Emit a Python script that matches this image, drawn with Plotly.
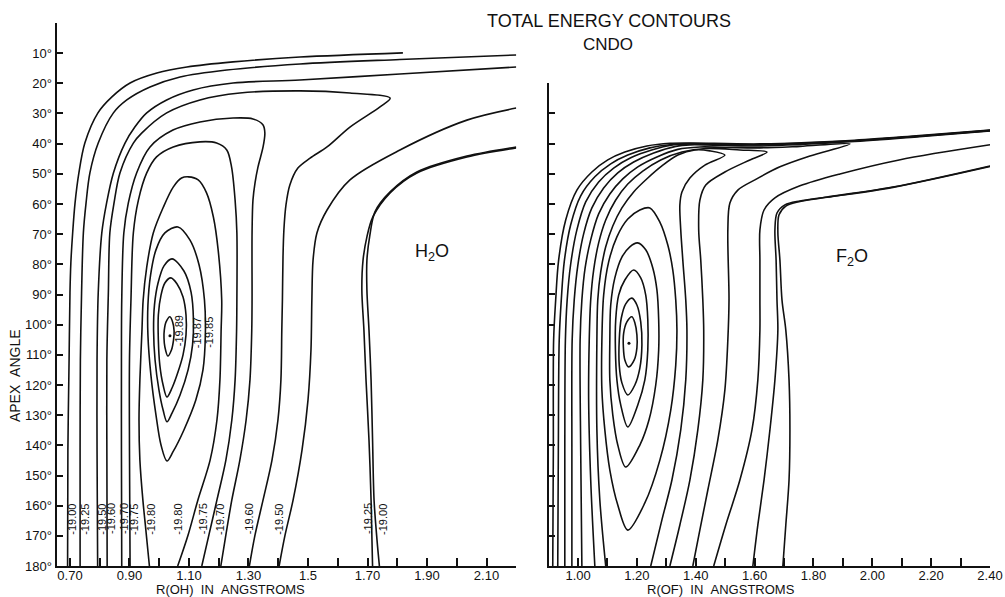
import plotly.graph_objects as go

# ---------------- H2O panel (R(OH) in Angstrom, apex angle in degrees) ----------------
h2o_m1900_left_r = [0.692,0.693,0.697,0.700,0.703,0.709,0.717,0.730,0.750,0.794,0.841,0.902,0.992,1.093,1.248,1.473,1.819]
h2o_m1900_left_a = [180,141.5,111.7,89.5,79.5,69.6,59.7,49.7,39.8,29.8,24.5,19.9,16.6,14.6,12.9,11.3,9.9]

h2o_m1925_left_r = [0.734,0.734,0.735,0.739,0.745,0.754,0.767,0.795,0.846,0.891,0.969,1.070,1.227,1.473,1.809,2.2]
h2o_m1925_left_a = [180,141.5,111.7,89.5,69.6,59.7,49.7,39.8,29.8,25.5,21.2,17.9,15.6,13.6,12.1,10.6]

h2o_m1950_left_r = [0.793,0.791,0.791,0.795,0.807,0.823,0.846,0.885,0.918,0.958,1.025,1.114,1.248,1.473,1.809,2.2]
h2o_m1950_left_a = [180,141.5,111.7,89.5,69.6,59.7,49.7,39.8,34.5,29.8,25.5,22.2,19.9,18.9,16.9,14.6]

h2o_m1960_r = [0.825,0.824,0.824,0.829,0.834,0.848,0.868,0.913,0.941,1.025,1.137,1.271,1.473,1.641,1.776,
               1.742,1.641,1.564,1.507,1.466,1.439,1.426,1.419,1.416,1.414,1.412,1.409,1.399,1.379,1.349,1.322,1.303]
h2o_m1960_a = [180,141.5,111.7,89.5,69.6,59.7,49.7,39.8,36.5,29.8,25.5,23.2,22.5,23.2,24.9,
               27.8,34.5,41.1,44.8,48.1,53.7,60.3,68.6,77.6,91.8,101.8,118.3,131.6,144.9,158.1,169.7,180]

h2o_m1970_r = [0.874,0.873,0.873,0.874,0.881,0.896,0.924,0.969,1.046,1.137,1.248,1.315,1.349,1.355,1.349,1.332,
               1.322,1.315,1.312,1.312,1.311,1.305,1.292,1.271,1.244,1.224,1.207]
h2o_m1970_a = [180,141.5,111.7,91.8,69.6,59.7,49.7,41.1,35.5,32.8,31.5,31.8,33.8,36.5,41.1,47.7,
               53.0,58.7,69.6,91.8,101.8,118.3,131.6,144.9,158.1,169.7,180]

h2o_m1975_r = [0.902,0.900,0.900,0.905,0.913,0.930,0.958,0.991,1.047,1.137,1.193,1.227,1.243,1.255,1.261,1.261,
               1.260,1.255,1.244,1.224,1.194,1.167,1.143]
h2o_m1975_a = [180,141.5,111.7,91.8,69.6,58.7,49.7,44.4,41.1,39.4,39.8,42.1,47.7,58.7,69.6,91.8,
               101.8,118.3,131.6,144.9,158.1,169.7,180]

h2o_m1980_r = [0.967,0.955,0.945,0.935,0.932,0.935,0.942,0.946,0.958,0.980,1.014,1.047,1.075,1.098,1.131,1.159,
               1.182,1.198,1.210,1.208,1.204,1.194,1.171,1.130,1.097,1.062]
h2o_m1980_a = [180,168.0,158.1,144.9,131.6,118.3,101.8,91.8,80.9,69.6,61.0,54.4,51.4,51.0,52.0,56.3,
               64.3,75.2,91.8,101.8,118.3,131.6,144.9,158.1,169.7,180]

h2o_ring4_r = [1.063,1.019,0.989,0.971,0.962,0.962,0.972,0.989,1.006,1.026,1.046,1.083,1.123,1.147,1.155,1.152,1.134,1.103,1.063]
h2o_ring4_a = [67.6,69.6,75.2,83.5,93.5,103.4,116.7,129.9,139.9,145.2,142.2,134.9,125.0,115.0,103.4,91.8,80.2,71.9,67.6]

h2o_m1985_r = [1.043,1.016,0.996,0.984,0.981,0.986,0.999,1.013,1.026,1.043,1.070,1.097,1.112,1.115,1.107,1.083,1.043]
h2o_m1985_a = [78.2,80.5,86.2,93.5,101.8,111.7,121.6,128.3,132.2,129.3,123.3,115.0,106.7,98.4,89.2,82.2,78.2]

h2o_m1987_r = [1.039,1.019,1.006,0.997,0.997,1.002,1.013,1.026,1.043,1.063,1.080,1.090,1.090,1.080,1.060,1.039]
h2o_m1987_a = [84.5,86.2,90.2,96.8,105.1,113.4,120.0,124.0,121.0,115.7,110.0,103.4,96.8,90.8,86.5,84.5]

h2o_m1989_r = [1.036,1.023,1.017,1.016,1.019,1.029,1.041,1.048,1.050,1.045,1.036]
h2o_m1989_a = [97.4,99.1,101.8,104.4,107.4,110.4,108.4,105.1,102.1,99.1,97.4]

h2o_m1950_right_r = [2.2,2.034,1.809,1.641,1.564,1.530,1.517,1.513,1.510,1.500,1.480,1.450,1.423,1.403]
h2o_m1950_right_a = [28.2,32.2,42.1,52.0,62.0,69.6,78.6,91.8,108.4,125.0,141.5,158.1,169.7,180]

h2o_m1925_right_r = [2.2,2.034,1.866,1.776,1.718,1.698,1.685,1.681,1.688,1.695,1.705,1.712,1.715,1.717]
h2o_m1925_right_a = [41.4,44.4,49.7,56.3,64.3,70.9,78.6,88.5,101.8,118.3,138.2,158.1,171.4,180]

h2o_m1900_right_r = [2.2,2.034,1.866,1.776,1.725,1.708,1.698,1.698,1.705,1.712,1.717,1.722,1.732,1.740]
h2o_m1900_right_a = [41.1,44.1,49.4,56.0,62.6,70.3,78.6,88.5,101.8,118.3,138.2,158.1,171.4,180]

h2o_min_r = [1.036]
h2o_min_a = [103.7]

h2o_label_text = ["-19.00","-19.25","-19.50","-19.60","-19.70","-19.75","-19.80",
                  "-19.80","-19.75","-19.70","-19.60","-19.50","-19.25","-19.00"]
h2o_label_r = [0.706,0.750,0.807,0.838,0.882,0.915,0.972,1.062,1.148,1.204,1.303,1.402,1.702,1.752]
h2o_label_a = [164.4]*14
h2o_inner_text = ["-19.89","-19.87","-19.85"]
h2o_inner_r = [1.065,1.126,1.165]
h2o_inner_a = [102.0,102.6,102.6]

# ---------------- F2O panel (R(OF) in Angstrom) ----------------
f2o_o1_r = [0.914,0.916,0.917,0.924,0.934,0.958,0.996,1.047,1.101,1.159,1.234,1.312,1.380,1.618,1.924,2.160,2.400]
f2o_o1_a = [180,141.5,105.1,91.8,78.6,65.3,55.4,49.4,45.4,42.8,40.8,39.9,39.8,40.1,38.95,37.3,35.5]

f2o_o2_r = [0.931,0.933,0.936,0.943,0.953,0.975,1.009,1.057,1.111,1.169,1.244,1.319,1.380,1.618,1.924,2.160,2.400]
f2o_o2_a = [180,141.5,105.1,91.8,79.2,66.9,57.3,51.0,46.7,43.8,41.4,40.3,40.0,40.3,39.1,37.45,35.6]

f2o_o3_r = [0.955,0.955,0.957,0.963,0.975,0.996,1.026,1.070,1.121,1.179,1.250,1.325,1.380,1.618,1.924,2.160,2.400]
f2o_o3_a = [180,141.5,105.1,91.8,79.9,68.6,59.3,52.7,48.1,44.7,42.1,40.4,40.1,40.4,39.2,37.55,35.7]

f2o_o4_r = [0.979,0.979,0.980,0.987,0.999,1.019,1.047,1.087,1.135,1.189,1.257,1.332,1.380,1.618,1.924,2.160,2.400]
f2o_o4_a = [180,141.5,105.1,91.8,80.5,69.9,61.3,54.7,49.7,46.1,43.1,40.9,40.4,40.8,39.4,37.7,35.8]

f2o_t3_r = [1.013,1.009,1.007,1.013,1.024,1.043,1.070,1.108,1.152,1.203,1.268,1.339,1.414,1.516,1.618,1.754,1.924,
            1.788,1.686,1.601,1.543,1.516,1.509,1.513,1.509,1.499,1.475,1.441,1.414,1.390]
f2o_t3_a = [180,141.5,105.1,91.8,81.2,71.9,63.3,56.7,51.7,47.7,44.4,41.9,41.1,41.3,41.4,40.9,40.1,
            44.1,47.7,52.0,55.4,59.7,68.6,91.8,105.1,121.6,138.2,154.8,168.0,180]

f2o_t2_r = [1.057,1.043,1.036,1.038,1.043,1.053,1.070,1.094,1.128,1.169,1.220,1.281,1.353,1.434,1.550,1.642,
            1.584,1.499,1.434,1.414,1.410,1.417,1.424,1.427,1.424,1.407,1.380,1.346,1.312]
f2o_t2_a = [180,151.5,125.0,105.1,91.8,81.9,72.9,65.3,58.7,53.4,49.1,45.4,42.8,41.6,42.1,42.8,
            45.4,49.4,53.7,58.7,68.6,78.6,91.8,101.8,118.3,134.9,151.5,166.4,180]

f2o_t1_r = [1.094,1.074,1.064,1.064,1.067,1.077,1.094,1.118,1.149,1.189,1.237,1.285,1.339,1.397,1.448,1.499,
            1.431,1.380,1.353,1.346,1.349,1.356,1.366,1.370,1.366,1.349,1.319,1.285,1.247]
f2o_t1_a = [180,158.1,134.9,105.1,91.8,82.5,74.2,67.3,61.3,56.0,51.4,47.4,43.8,42.1,42.4,43.8,
            47.1,51.4,56.0,60.3,68.6,78.6,91.8,101.8,118.3,134.9,151.5,164.7,180]

f2o_o4_right_r = [2.400,2.091,1.890,1.754,1.669,1.632,1.618,1.618,1.618,1.618,1.611,1.591,1.550,1.502,1.461]
f2o_o4_right_a = [40.4,45.4,50.05,54.0,58.0,62.0,68.6,78.6,91.8,101.8,118.3,134.9,151.5,166.4,180]

f2o_o3_right_r = [2.400,2.070,1.846,1.754,1.703,1.676,1.669,1.673,1.676,1.679,1.669,1.652,1.632,1.611,1.594]
f2o_o3_right_a = [47.4,54.4,57.7,59.0,60.3,63.0,68.6,78.6,91.8,101.8,118.3,134.9,151.5,166.4,180]

f2o_o2_right_r = [2.400,2.070,1.846,1.754,1.706,1.683,1.679,1.686,1.693,1.706,1.717,1.720,1.717,1.706,1.696]
f2o_o2_right_a = [47.6,54.5,57.8,59.2,60.7,63.6,69.3,78.6,91.8,101.8,118.3,134.9,151.5,166.4,180]

f2o_e5_r = [1.244,1.278,1.305,1.322,1.332,1.336,1.332,1.315,1.278,1.227,1.169,1.135,1.108,1.091,1.081,1.081,1.087,1.104,1.132,1.169,1.210,1.244]
f2o_e5_a = [61.3,66.0,73.6,81.9,91.8,101.8,113.4,128.3,144.9,159.1,168.1,159.8,148.2,134.9,121.6,105.1,90.2,79.2,70.9,65.0,62.0,61.3]

f2o_e4_r = [1.202,1.230,1.254,1.268,1.274,1.274,1.264,1.241,1.210,1.162,1.135,1.118,1.108,1.108,1.111,1.125,1.149,1.176,1.202]
f2o_e4_a = [72.9,75.2,81.2,88.5,98.4,108.4,120.0,131.6,139.9,147.2,139.9,129.9,118.3,105.1,93.5,84.5,77.6,74.2,72.9]

f2o_e3_r = [1.189,1.213,1.230,1.237,1.237,1.227,1.203,1.169,1.145,1.132,1.127,1.128,1.138,1.159,1.189]
f2o_e3_a = [81.9,84.5,90.2,98.4,108.4,118.3,126.6,133.9,126.6,118.3,108.4,98.4,90.2,85.2,81.9]

f2o_e2_r = [1.183,1.200,1.213,1.217,1.210,1.193,1.169,1.149,1.140,1.140,1.147,1.162,1.183]
f2o_e2_a = [91.2,93.5,99.1,106.7,114.4,120.0,123.3,119.3,113.4,105.1,97.8,93.1,91.2]

f2o_e1_r = [1.183,1.193,1.200,1.200,1.191,1.172,1.159,1.154,1.155,1.166,1.183]
f2o_e1_a = [97.4,99.4,103.4,107.7,111.7,114.0,111.7,107.4,102.8,99.1,97.4]

f2o_min_r = [1.173]
f2o_min_a = [106.2]

# ---------------- axis ticks ----------------
left_x_tickvals = [0.7,0.9,1.1,1.3,1.5,1.7,1.9,2.1]
left_x_ticktext = ["0.70","0.90","1.10","1.30","1.5","1.70","1.90","2.10"]
left_x_minorvals = [0.8,1.0,1.2,1.4,1.6,1.8,2.0,2.2]
right_x_tickvals = [1.0,1.2,1.4,1.6,1.8,2.0,2.2,2.4]
right_x_ticktext = ["1.00","1.20","1.40","1.60","1.80","2.00","2.20","2.40"]
right_x_minorvals = [1.1,1.3,1.5,1.7,1.9,2.1,2.3]
left_y_tickvals = [10,20,30,40,50,60,70,80,90,100,110,120,130,140,150,160,170,180]
left_y_ticktext = ["10°","20°","30°","40°","50°","60°","70°","80°","90°","100°","110°","120°",
                   "130°","140°","150°","160°","170°","180°"]
right_y_tickvals = [20,30,40,50,60,70,80,90,100,110,120,130,140,150,160,170,180]

FONT = "Liberation Sans, Arial, sans-serif"
INK = "#111111"
LW = 1.6

fig = go.Figure()

h2o_lines = [
    (h2o_m1900_left_r, h2o_m1900_left_a), (h2o_m1925_left_r, h2o_m1925_left_a),
    (h2o_m1950_left_r, h2o_m1950_left_a), (h2o_m1960_r, h2o_m1960_a),
    (h2o_m1970_r, h2o_m1970_a), (h2o_m1975_r, h2o_m1975_a), (h2o_m1980_r, h2o_m1980_a),
    (h2o_ring4_r, h2o_ring4_a), (h2o_m1985_r, h2o_m1985_a), (h2o_m1987_r, h2o_m1987_a),
    (h2o_m1989_r, h2o_m1989_a), (h2o_m1950_right_r, h2o_m1950_right_a),
    (h2o_m1925_right_r, h2o_m1925_right_a), (h2o_m1900_right_r, h2o_m1900_right_a),
]
f2o_lines = [
    (f2o_o1_r, f2o_o1_a), (f2o_o2_r, f2o_o2_a), (f2o_o3_r, f2o_o3_a), (f2o_o4_r, f2o_o4_a),
    (f2o_t3_r, f2o_t3_a), (f2o_t2_r, f2o_t2_a), (f2o_t1_r, f2o_t1_a),
    (f2o_o4_right_r, f2o_o4_right_a), (f2o_o3_right_r, f2o_o3_right_a), (f2o_o2_right_r, f2o_o2_right_a),
    (f2o_e5_r, f2o_e5_a), (f2o_e4_r, f2o_e4_a), (f2o_e3_r, f2o_e3_a), (f2o_e2_r, f2o_e2_a), (f2o_e1_r, f2o_e1_a),
]

for xs, ys in h2o_lines:
    fig.add_trace(go.Scatter(x=xs, y=ys, mode="lines", xaxis="x", yaxis="y",
                             line=dict(color=INK, width=LW, shape="spline", smoothing=0.9),
                             showlegend=False, hoverinfo="skip"))
for xs, ys in f2o_lines:
    fig.add_trace(go.Scatter(x=xs, y=ys, mode="lines", xaxis="x2", yaxis="y2",
                             line=dict(color=INK, width=LW, shape="spline", smoothing=0.9),
                             showlegend=False, hoverinfo="skip"))

fig.add_trace(go.Scatter(x=h2o_min_r, y=h2o_min_a, mode="markers", xaxis="x", yaxis="y",
                         marker=dict(color=INK, size=3), showlegend=False, hoverinfo="skip"))
fig.add_trace(go.Scatter(x=f2o_min_r, y=f2o_min_a, mode="markers", xaxis="x2", yaxis="y2",
                         marker=dict(color=INK, size=3), showlegend=False, hoverinfo="skip"))

annotations = []
for t, r, a in zip(h2o_label_text + h2o_inner_text, h2o_label_r + h2o_inner_r, h2o_label_a + h2o_inner_a):
    annotations.append(dict(x=r, y=a, xref="x", yref="y", text=t, showarrow=False, textangle=-90,
                            xanchor="center", yanchor="middle",
                            font=dict(family=FONT, size=11, color=INK)))

annotations += [
    dict(x=1.917, y=76.2, xref="x", yref="y", text="H<sub>2</sub>O", showarrow=False,
         xanchor="center", yanchor="middle", font=dict(family=FONT, size=18, color=INK)),
    dict(x=1.931, y=77.6, xref="x2", yref="y2", text="F<sub>2</sub>O", showarrow=False,
         xanchor="center", yanchor="middle", font=dict(family=FONT, size=18, color=INK)),
    dict(x=0.606, y=0.965, xref="paper", yref="paper", text="TOTAL ENERGY CONTOURS", showarrow=False,
         xanchor="center", yanchor="middle", font=dict(family=FONT, size=18, color=INK)),
    dict(x=0.605, y=0.925, xref="paper", yref="paper", text="CNDO", showarrow=False,
         xanchor="center", yanchor="middle", font=dict(family=FONT, size=17, color=INK)),
    dict(x=0.2294, y=0.0130, xref="paper", yref="paper", text="R(OH)\u00a0\u00a0IN\u00a0\u00a0ANGSTROMS",
         showarrow=False, xanchor="center", yanchor="middle", font=dict(family=FONT, size=13, color=INK)),
    dict(x=0.7174, y=0.0130, xref="paper", yref="paper", text="R(OF)\u00a0\u00a0IN\u00a0\u00a0ANGSTROMS",
         showarrow=False, xanchor="center", yanchor="middle", font=dict(family=FONT, size=13, color=INK)),
    dict(x=0.0150, y=0.3702, xref="paper", yref="paper", text="APEX\u00a0\u00a0ANGLE", textangle=-90,
         showarrow=False, xanchor="center", yanchor="middle", font=dict(family=FONT, size=14, color=INK)),
]

axis_common = dict(showgrid=False, zeroline=False, showline=True, linecolor=INK, linewidth=2,
                   ticks="inside", tickcolor=INK, tickwidth=1.5, automargin=False)
xfont = dict(family=FONT, size=13, color=INK)
yfont = dict(family=FONT, size=13, color=INK)

fig.update_layout(
    width=1005, height=597, autosize=False,
    margin=dict(l=0, r=0, t=0, b=0),
    paper_bgcolor="white", plot_bgcolor="white",
    showlegend=False,
    xaxis=dict(domain=[0.0563, 0.5137], range=[0.655, 2.2], tickmode="array", tickfont=xfont,
               ticklabelstandoff=-4,
               tickvals=left_x_tickvals, ticktext=left_x_ticktext, ticklen=8, anchor="y",
               minor=dict(tickmode="array", tickvals=left_x_minorvals, ticks="inside", ticklen=8,
                          tickwidth=1.5, tickcolor=INK, showgrid=False),
               **axis_common),
    yaxis=dict(domain=[0.0519, 0.9615], range=[180, 0], tickmode="array", tickfont=yfont,
               tickvals=left_y_tickvals, ticktext=left_y_ticktext, ticklen=6, anchor="x", **axis_common),
    xaxis2=dict(domain=[0.5459, 0.9851], range=[0.9, 2.4], tickmode="array", tickfont=xfont,
                ticklabelstandoff=-4,
                tickvals=right_x_tickvals, ticktext=right_x_ticktext, ticklen=8, anchor="y2",
                minor=dict(tickmode="array", tickvals=right_x_minorvals, ticks="inside", ticklen=8,
                           tickwidth=1.5, tickcolor=INK, showgrid=False),
                **axis_common),
    yaxis2=dict(domain=[0.0519, 0.8605], range=[180, 20], tickmode="array", tickfont=yfont,
                tickvals=right_y_tickvals, showticklabels=False, ticklen=6, anchor="x2", **axis_common),
    annotations=annotations,
)

fig.write_html("out.html")
